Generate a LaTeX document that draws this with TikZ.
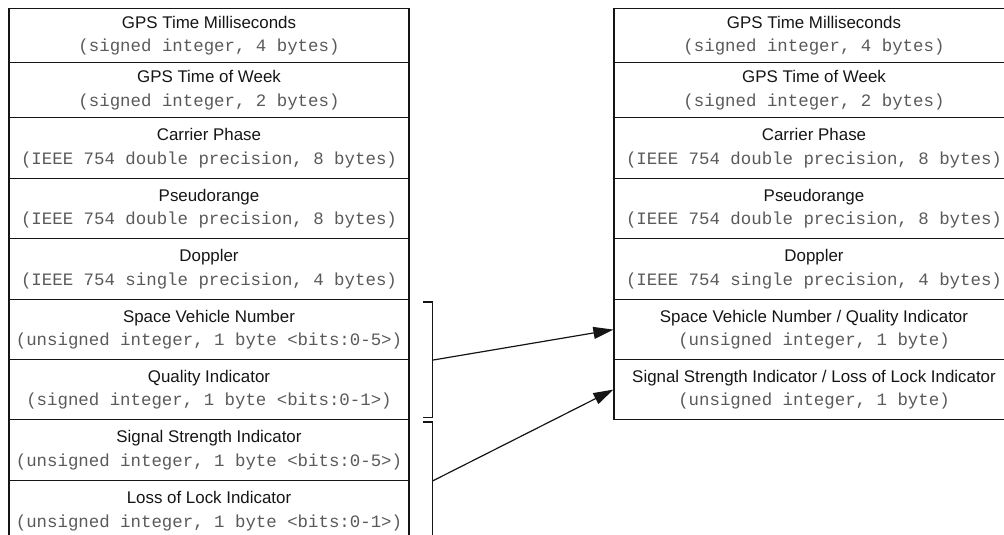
\documentclass[tikz,border=0pt]{standalone}
\usepackage{fontspec}
\setmainfont{Liberation Sans}
\setmonofont{Liberation Mono}
\usetikzlibrary{arrows.meta}
\definecolor{ink}{HTML}{151515}
\definecolor{monogray}{HTML}{5A5A5A}

% two-line field label: name, then type in monospace
\newcommand{\fieldlabel}[2]{#1\\{\ttfamily\fontsize{17.4}{23.5}\selectfont\color{monogray}#2}}

\tikzset{
  field/.style={draw=ink, line width=1.2pt, minimum width=400pt, inner sep=0pt,
    anchor=north, align=center, text=ink,
    font=\fontsize{16.9}{23.5}\selectfont},
  bracketline/.style={draw=ink, line width=1.2pt},
  maparrow/.style={draw=ink, line width=1.2pt, -{Triangle[length=20pt,width=12pt]}}
}

\begin{document}
\begin{tikzpicture}[x=1pt, y=-1pt]
\useasboundingbox (0,0) rectangle (1004,535);
\clip (0,0) rectangle (1004,535);

% original record layout
\node[field, minimum height=54pt] (l1) at (209,8)   {\fieldlabel{GPS Time Milliseconds}{(signed integer, 4 bytes)}};
\node[field, minimum height=55pt] (l2) at (209,62)  {\fieldlabel{GPS Time of Week}{(signed integer, 2 bytes)}};
\node[field, minimum height=61pt] (l3) at (209,117) {\fieldlabel{Carrier Phase}{(IEEE 754 double precision, 8 bytes)}};
\node[field, minimum height=60pt] (l4) at (209,178) {\fieldlabel{Pseudorange}{(IEEE 754 double precision, 8 bytes)}};
\node[field, minimum height=61pt] (l5) at (209,238) {\fieldlabel{Doppler}{(IEEE 754 single precision, 4 bytes)}};
\node[field, minimum height=60pt] (l6) at (209,299) {\fieldlabel{Space Vehicle Number}{(unsigned integer, 1 byte <bits:0-5>)}};
\node[field, minimum height=60pt] (l7) at (209,359) {\fieldlabel{Quality Indicator}{(signed integer, 1 byte <bits:0-1>)}};
\node[field, minimum height=61pt] (l8) at (209,419) {\fieldlabel{Signal Strength Indicator}{(unsigned integer, 1 byte <bits:0-5>)}};
\node[field, minimum height=61pt] (l9) at (209,480) {\fieldlabel{Loss of Lock Indicator}{(unsigned integer, 1 byte <bits:0-1>)}};

% packed record layout
\node[field, minimum height=54pt] (r1) at (814,8)   {\fieldlabel{GPS Time Milliseconds}{(signed integer, 4 bytes)}};
\node[field, minimum height=55pt] (r2) at (814,62)  {\fieldlabel{GPS Time of Week}{(signed integer, 2 bytes)}};
\node[field, minimum height=61pt] (r3) at (814,117) {\fieldlabel{Carrier Phase}{(IEEE 754 double precision, 8 bytes)}};
\node[field, minimum height=60pt] (r4) at (814,178) {\fieldlabel{Pseudorange}{(IEEE 754 double precision, 8 bytes)}};
\node[field, minimum height=61pt] (r5) at (814,238) {\fieldlabel{Doppler}{(IEEE 754 single precision, 4 bytes)}};
\node[field, minimum height=60pt] (r6) at (814,299) {\fieldlabel{Space Vehicle Number / Quality Indicator}{(unsigned integer, 1 byte)}};
\node[field, minimum height=60pt] (r7) at (814,359) {\fieldlabel{Signal Strength Indicator / Loss of Lock Indicator}{(unsigned integer, 1 byte)}};

% brackets grouping the bit fields
\draw[bracketline] ([shift={(13pt,-3pt)}]l6.north east) -- ++(9.5pt,0)
  |- ([shift={(13pt,3pt)}]l7.south east);
\draw[bracketline] ([shift={(13pt,-3pt)}]l8.north east) -- ++(9.5pt,0)
  |- ([shift={(13pt,3pt)}]l9.south east);

\coordinate (m1) at ([xshift=22.5pt]l6.south east);
\coordinate (m2) at ([xshift=22.5pt]l8.south east);

% packing arrows
\draw[maparrow] (m1) -- (r6.west);
\draw[maparrow] (m2) -- (r7.west);
\end{tikzpicture}
\end{document}
